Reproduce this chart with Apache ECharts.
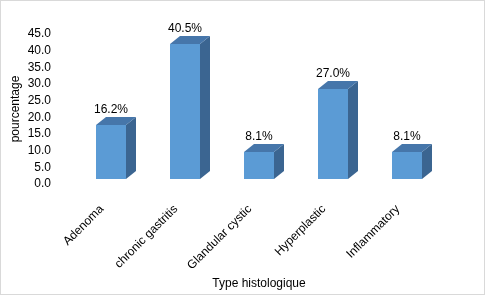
<!DOCTYPE html>
<html lang="fr">
<head>
    <meta charset="UTF-8">
    <title>Type histologique</title>
    <style>
        html, body { margin: 0; padding: 0; background: #fff; }
        #chart {
            width: 483px;
            height: 293px;
            border: 1px solid #d9d9d9;
        }
    </style>
    <script src="https://cdn.jsdelivr.net/npm/echarts@6/dist/echarts.min.js"></script>
</head>
<body>
<div id="chart"></div>
<script>
    // données
    var categories = ['Adenoma', 'chronic gastritis', 'Glandular cystic', 'Hyperplastic', 'Inflammatory'];
    var values = [16.2, 40.5, 8.1, 27.0, 8.1];
    var yTicks = [0, 5, 10, 15, 20, 25, 30, 35, 40, 45];

    var font = '"Liberation Sans", Arial, sans-serif';
    var depthX = 10, depthY = -8, lift = 5, halfW = 15;

    var chart = echarts.init(document.getElementById('chart'));

    // barre 3D : face avant, dessus, côté
    function renderBar(params, api) {
        var idx = api.value(0);
        var top = api.coord([idx, api.value(1)]);
        var base = api.coord([idx, 0]);
        var x0 = top[0] - halfW, x1 = top[0] + halfW;
        var yt = top[1] - lift, yb = base[1] - lift;
        return {
            type: 'group',
            children: [
                {
                    type: 'polygon',
                    shape: {points: [[x1, yt], [x1 + depthX, yt + depthY], [x1 + depthX, yb + depthY], [x1, yb]]},
                    style: {fill: '#3b6591'}
                },
                {
                    type: 'polygon',
                    shape: {points: [[x0, yt], [x0 + depthX, yt + depthY], [x1 + depthX, yt + depthY], [x1, yt]]},
                    style: {fill: '#4676aa'}
                },
                {
                    type: 'rect',
                    shape: {x: x0, y: yt, width: x1 - x0, height: yb - yt},
                    style: {fill: '#5b9bd5'}
                },
                {
                    type: 'text',
                    x: top[0],
                    y: yt + depthY - 1,
                    style: {
                        text: api.value(1).toFixed(1) + '%',
                        fill: '#000',
                        font: '12px ' + font,
                        align: 'center',
                        verticalAlign: 'bottom'
                    }
                }
            ]
        };
    }

    var barData = values.map(function (v, i) { return [i, v]; });

    var option = {
        animation: false,
        grid: {left: 73, right: 40, top: 33, bottom: 110, outerBoundsMode: 'none'},
        xAxis: {
            type: 'category',
            data: categories,
            name: 'Type histologique',
            nameLocation: 'middle',
            nameGap: 94,
            nameMoveOverlap: false,
            nameTextStyle: {color: '#000', fontSize: 12, fontFamily: font},
            axisLine: {show: false},
            axisTick: {show: false},
            axisLabel: {
                rotate: 45,
                interval: 0,
                margin: 14,
                padding: [0, 13, 0, 0],
                color: '#000',
                fontSize: 12,
                fontFamily: font
            }
        },
        yAxis: {
            type: 'value',
            min: yTicks[0],
            max: yTicks[yTicks.length - 1],
            interval: 5,
            name: 'pourcentage',
            nameLocation: 'middle',
            nameGap: 52,
            nameMoveOverlap: false,
            nameTextStyle: {color: '#000', fontSize: 12, fontFamily: font},
            axisLine: {show: false},
            axisTick: {show: false},
            splitLine: {show: false},
            axisLabel: {
                margin: 23,
                color: '#000',
                fontSize: 12,
                fontFamily: font,
                formatter: function (v) { return v.toFixed(1); }
            }
        },
        series: [{
            type: 'custom',
            renderItem: renderBar,
            encode: {x: 0, y: 1},
            data: barData
        }]
    };

    chart.setOption(option);
</script>
</body>
</html>
